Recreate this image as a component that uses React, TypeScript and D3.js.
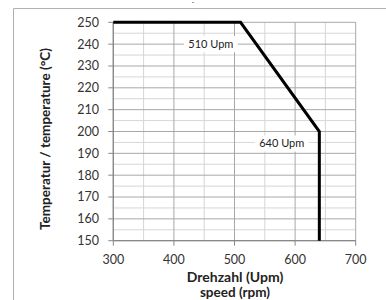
import React from "react";
import * as d3 from "d3";

const speedTicks = [300, 400, 500, 600, 700];
const tempTicks = [150, 160, 170, 180, 190, 200, 210, 220, 230, 240, 250];
const curveSpeed = [300, 510, 640, 640];
const curveTemp = [250, 250, 200, 150];
const labelTexts = ["510 Upm", "640 Upm"];
const labelSpeed = [461, 578];
const labelTemp = [240, 194.5];

const W = 386;
const H = 300;
const FONT = "Lato, 'Open Sans', sans-serif";

export default function App() {
  const x = d3.scaleLinear().domain([300, 700]).range([113.3, 355.7]);
  const y = d3.scaleLinear().domain([150, 250]).range([240.7, 22.3]);

  const minorX = d3.range(350, 700, 100);
  const minorY = d3.range(155, 250, 10);

  const line = d3
    .line<number>()
    .x((_, i) => x(curveSpeed[i]))
    .y((d) => y(d));

  return (
    <svg
      width={W}
      height={H}
      style={{ position: "absolute", left: 0, top: 0, background: "#fff" }}
      fontFamily={FONT}
    >
      {/* outer frame */}
      <line x1={13.5} y1={8.5} x2={386} y2={8.5} stroke="#b0b0b0" strokeWidth={1} />
      <line x1={13.5} y1={8.5} x2={13.5} y2={300} stroke="#b0b0b0" strokeWidth={1} />
      <text x={193} y={8} fontSize={7} textAnchor="middle" fill="#444">ˇ</text>

      {/* minor grid */}
      {minorX.map((v) => (
        <line key={"mx" + v} x1={x(v)} x2={x(v)} y1={y(250)} y2={y(150)} stroke="#d6d6d6" strokeWidth={1} />
      ))}
      {minorY.map((v) => (
        <line key={"my" + v} x1={x(300)} x2={x(700)} y1={y(v)} y2={y(v)} stroke="#d6d6d6" strokeWidth={1} />
      ))}
      {/* major grid */}
      {speedTicks.map((v) => (
        <line key={"gx" + v} x1={x(v)} x2={x(v)} y1={y(250)} y2={y(150)} stroke="#a8a8a8" strokeWidth={1} />
      ))}
      {tempTicks.map((v) => (
        <line key={"gy" + v} x1={x(300)} x2={x(700)} y1={y(v)} y2={y(v)} stroke="#a8a8a8" strokeWidth={1} />
      ))}

      {/* axes */}
      <line x1={x(300)} x2={x(300)} y1={y(250)} y2={y(150)} stroke="#888" strokeWidth={1.3} />
      <line x1={x(300)} x2={x(700)} y1={y(150)} y2={y(150)} stroke="#888" strokeWidth={1.3} />
      {tempTicks.map((v) => (
        <g key={"ty" + v}>
          <line x1={x(300) - 5} x2={x(300)} y1={y(v)} y2={y(v)} stroke="#888" />
          <text x={99} y={y(v)} dy="0.35em" fontSize={12.5} textAnchor="end" fill="#333">
            {v}
          </text>
        </g>
      ))}
      {speedTicks.map((v) => (
        <g key={"tx" + v}>
          <line x1={x(v)} x2={x(v)} y1={y(150)} y2={y(150) + 5} stroke="#888" />
          <text x={x(v)} y={260} dy="0.35em" fontSize={12.5} textAnchor="middle" fill="#333">
            {v}
          </text>
        </g>
      ))}

      {/* labels */}
      {labelTexts.map((t, i) => (
        <g key={t}>
          <rect
            x={x(labelSpeed[i]) - 27}
            y={y(labelTemp[i]) - 8}
            width={54}
            height={16}
            fill="#fff"
          />
          <text x={x(labelSpeed[i])} y={y(labelTemp[i])} dy="0.35em" fontSize={11} textAnchor="middle" fill="#222">
            {t}
          </text>
        </g>
      ))}

      {/* curve */}
      <path d={line(curveTemp) || ""} fill="none" stroke="#000" strokeWidth={3} />

      {/* axis titles */}
      <text
        transform={`translate(50,139) rotate(-90)`}
        textAnchor="middle"
        fontSize={13.5}
        fontWeight="bold"
        fill="#222"
      >
        Temperatur / temperature (°C)
      </text>
      <text x={235} y={277} dy="0.35em" textAnchor="middle" fontSize={14} fontWeight="bold" fill="#222">
        Drehzahl (Upm)
      </text>
      <text x={235} y={292} dy="0.35em" textAnchor="middle" fontSize={13.5} fontWeight="bold" fill="#222">
        speed (rpm)
      </text>
    </svg>
  );
}
